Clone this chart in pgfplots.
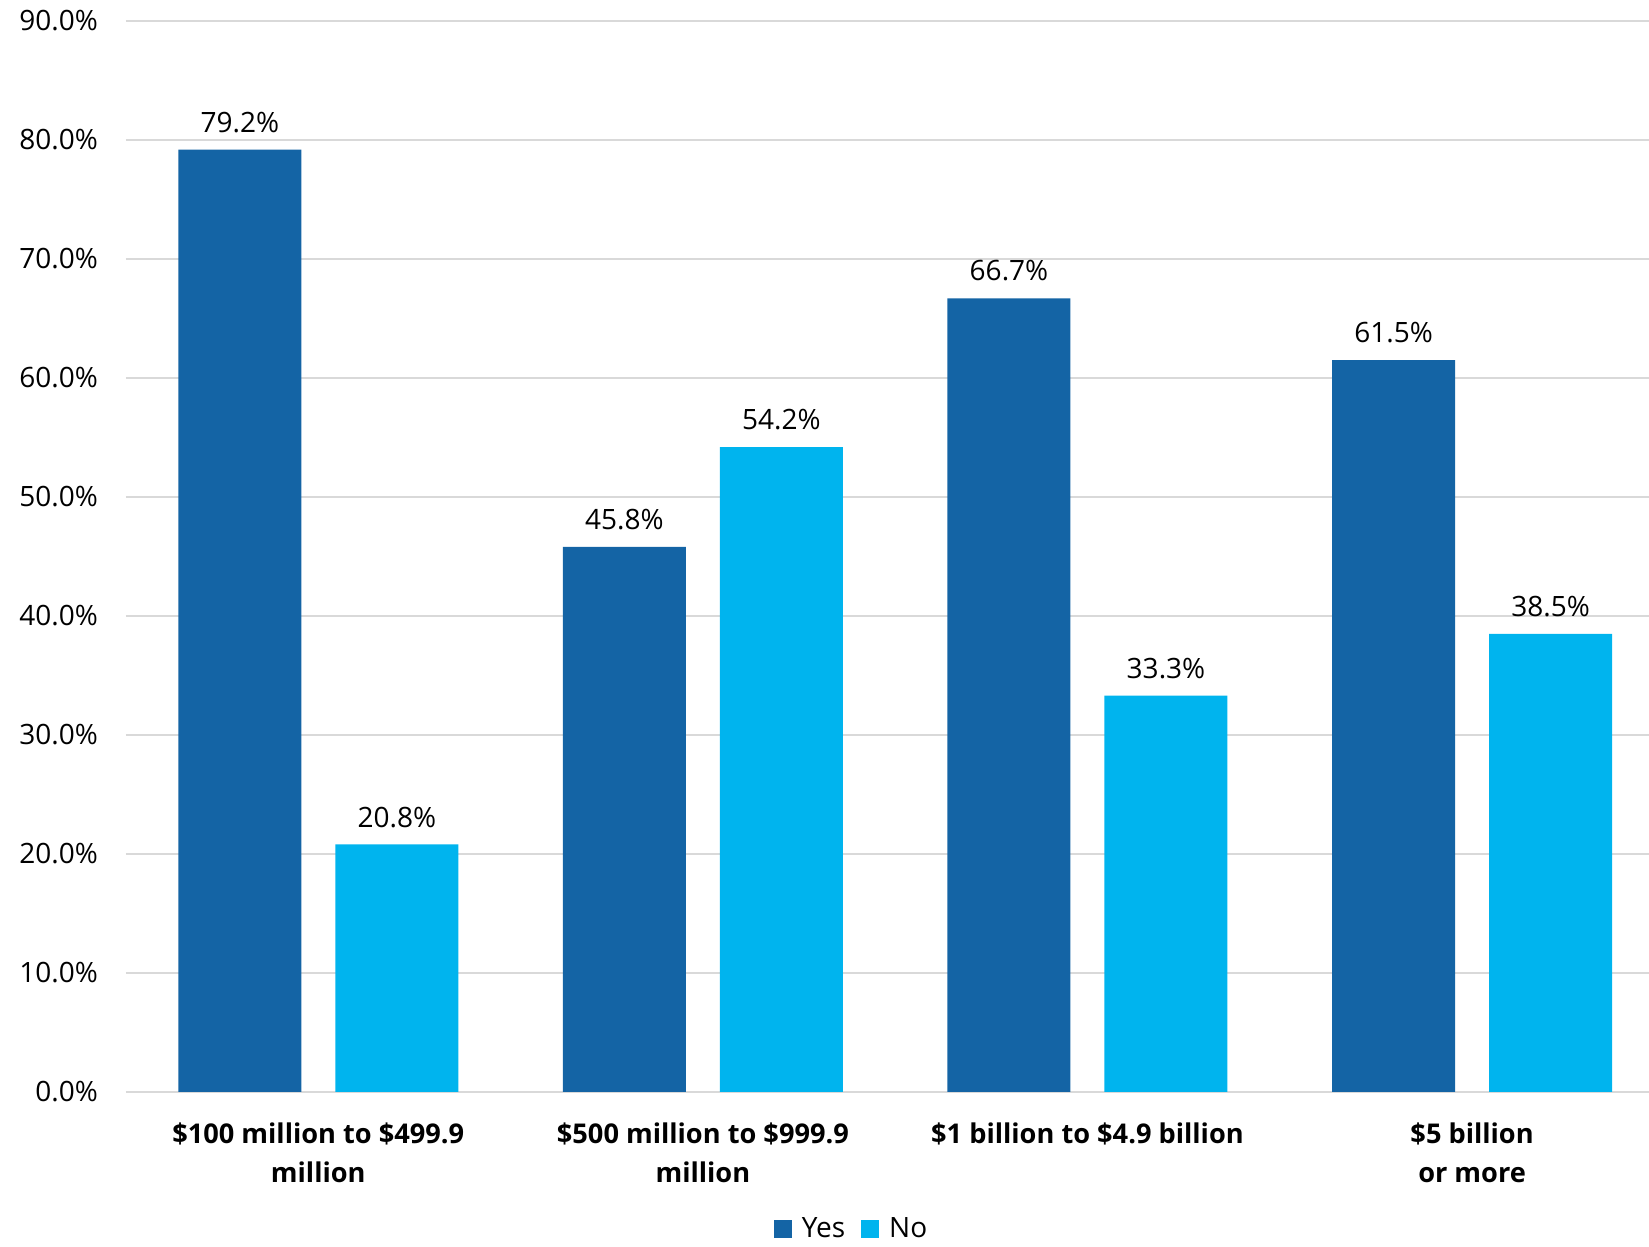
\documentclass[border=0pt]{standalone}
\usepackage{pgfplots}
\pgfplotsset{compat=1.18}
\usepackage{fontspec}
\setmainfont{Open Sans}
\definecolor{yescol}{HTML}{1464A5}
\definecolor{nocol}{HTML}{00B4EE}
\definecolor{gridc}{HTML}{D9D9D9}
\begin{document}
\begin{tikzpicture}
\begin{axis}[
  at={(0,0)}, anchor=south west,
  scale only axis,
  width=761.5pt, height=535.5pt,
  ybar=17pt, bar width=61.5pt,
  ymin=0, ymax=90,
  xmin=-0.5, xmax=3.46,
  ytick={0,10,...,90},
  xtick={0,1,2,3},
  xticklabels={{\$100 million to \$499.9\\million},{\$500 million to \$999.9\\million},{\$1 billion to \$4.9 billion},{\$5 billion\\or more}},
  xticklabel style={font=\fontsize{13.6}{19.5}\selectfont\bfseries, align=center, yshift=-12pt},
  yticklabel style={font=\fontsize{14}{16}\selectfont, xshift=-10.5pt},
  /pgf/number format/assume math mode=true,
  yticklabel={\pgfmathprintnumber[fixed,fixed zerofill,precision=1]{\tick}\%},
  ymajorgrids, grid style={gridc, line width=1pt},
  axis lines*=left,
  y axis line style={draw=none},
  x axis line style={gridc, line width=1pt, -},
  major tick length=0pt,
  nodes near coords={\pgfmathprintnumber[fixed,fixed zerofill,precision=1]{\pgfplotspointmeta}\%},
  nodes near coords style={font=\fontsize{14}{16}\selectfont, black, yshift=5pt},
  legend style={at={(0.477,-0.128)}, anchor=center, draw=none, legend columns=2, font=\fontsize{14}{16}\selectfont, /tikz/every even column/.append style={column sep=6pt}},
  legend image code/.code={\fill[#1] (0pt,-4.5pt) rectangle (9pt,4.5pt); \path (12pt,0pt);},
  clip=false,
]
\addplot[fill=yescol, draw=none] coordinates {(0,79.2) (1,45.8) (2,66.7) (3,61.5)};
\addplot[fill=nocol, draw=none] coordinates {(0,20.8) (1,54.2) (2,33.3) (3,38.5)};
\legend{Yes, No}
\end{axis}
\pgfresetboundingbox
\path (-63pt,-77.5pt) rectangle (761.5pt,546pt);
\end{tikzpicture}
\end{document}
